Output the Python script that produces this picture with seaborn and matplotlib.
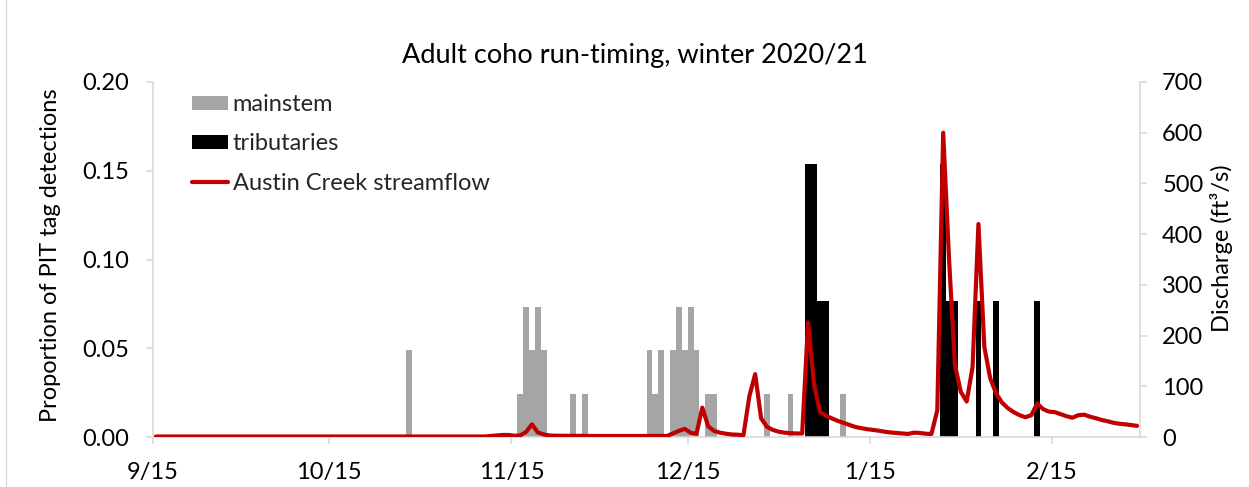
import matplotlib
matplotlib.use("Agg")
import matplotlib.pyplot as plt
from matplotlib.lines import Line2D
import numpy as np
import pandas as pd
import seaborn as sns

# ---------------------------------------------------------------- data
season_start = "2020-09-15"
axis_end = "2021-03-02"

tick_dates = ["2020-09-15", "2020-10-15", "2020-11-15",
              "2020-12-15", "2021-01-15", "2021-02-15"]
tick_labels = ["9/15", "10/15", "11/15", "12/15", "1/15", "2/15"]

# daily proportion of PIT-tag detections (mainstem n = 41, tributaries n = 13)
mainstem_dates = ["2020-10-28", "2020-11-16", "2020-11-17", "2020-11-18",
                  "2020-11-19", "2020-11-20", "2020-11-25", "2020-11-27",
                  "2020-12-08", "2020-12-09", "2020-12-10", "2020-12-12",
                  "2020-12-13", "2020-12-14", "2020-12-15", "2020-12-16",
                  "2020-12-18", "2020-12-19", "2020-12-28", "2021-01-01",
                  "2021-01-10"]
mainstem_prop = [0.0488, 0.0244, 0.0732, 0.0488, 0.0732, 0.0488, 0.0244,
                 0.0244, 0.0488, 0.0244, 0.0488, 0.0488, 0.0732, 0.0488,
                 0.0732, 0.0488, 0.0244, 0.0244, 0.0244, 0.0244, 0.0244]

tributary_dates = ["2021-01-04", "2021-01-05", "2021-01-06", "2021-01-07",
                   "2021-01-27", "2021-01-28", "2021-01-29", "2021-02-02",
                   "2021-02-05", "2021-02-12"]
tributary_prop = [0.1538, 0.1538, 0.0769, 0.0769, 0.1538, 0.0769, 0.0769,
                  0.0769, 0.0769, 0.0769]

# Austin Creek mean daily discharge (cfs): low-flow stretch, then daily record
flow_early_dates = ["2020-09-15", "2020-10-15", "2020-11-10", "2020-11-11",
                    "2020-11-12", "2020-11-13", "2020-11-14", "2020-11-15",
                    "2020-11-16", "2020-11-17", "2020-11-18", "2020-11-19",
                    "2020-11-20", "2020-11-21", "2020-11-22", "2020-11-29",
                    "2020-12-10"]
flow_early_cfs = [1, 1, 1, 2, 3, 4, 4, 2.5, 3, 10, 25, 9, 5, 3, 2.5, 2, 2]

flow_daily_start = "2020-12-11"
flow_daily_cfs = [2, 7, 12, 16, 8.5, 6, 58, 21, 12, 8.5,
                  6.5, 5, 4.5, 3.5, 80, 124, 37, 20, 14, 10.5,
                  8.5, 7.5, 7, 7, 226, 106, 50, 42, 37, 32,
                  28, 24, 20, 17.5, 15.5, 14, 12.5, 10.5, 9, 8,
                  7, 6, 8.5, 8, 6.5, 6, 53, 600, 350, 142,
                  89, 70, 138, 420, 178, 116, 86, 68, 57, 49,
                  43, 39, 43, 66, 55, 50, 49, 45, 41, 38,
                  43, 44, 40, 37, 33.5, 31, 28, 26, 25, 23.5,
                  22]

title = "Adult coho run-timing, winter 2020/21"
left_label = "Proportion of PIT tag detections"
right_label = "Discharge (ft³/s)"

# ---------------------------------------------------------------- style
sns.set_style("white")
plt.rcParams["font.family"] = ["Lato", "DejaVu Sans"]

GRAY = "#A5A5A5"
BLACK = "#000000"
RED = "#C00000"
AXIS = "#D9D9D9"
FS = 17

start = pd.Timestamp(season_start)


def day_center(dates):
    """Days since season start, centred in each day's slot."""
    return np.array([(pd.Timestamp(d) - start).days for d in dates]) + 0.5


flow_dates = list(pd.to_datetime(flow_early_dates)) + list(
    pd.date_range(flow_daily_start, periods=len(flow_daily_cfs)))
flow_cfs = flow_early_cfs + flow_daily_cfs

fig = plt.figure(figsize=(12.49, 4.87), dpi=100)
fig.subplots_adjust(left=153 / 1249, right=1140 / 1249,
                    bottom=1 - 437 / 487, top=1 - 82 / 487)
ax = fig.add_subplot(111)

sns.barplot(x=day_center(mainstem_dates), y=mainstem_prop, native_scale=True,
            orient="x", width=1, color=GRAY, saturation=1, errorbar=None,
            linewidth=0, label="mainstem", ax=ax)
sns.barplot(x=day_center(tributary_dates), y=tributary_prop, native_scale=True,
            orient="x", width=1, color=BLACK, saturation=1, errorbar=None,
            linewidth=0, label="tributaries", ax=ax)
if ax.get_legend() is not None:
    ax.get_legend().remove()

ax2 = ax.twinx()
sns.lineplot(x=day_center(flow_dates), y=flow_cfs, color=RED, linewidth=3.0,
             sort=False, label="Austin Creek streamflow", ax=ax2)

# x axis: days since 9/15
end_day = (pd.Timestamp(axis_end) - start).days
ax.set_xlim(0, end_day)
ax.set_xticks([(pd.Timestamp(d) - start).days for d in tick_dates])
ax.set_xticklabels(tick_labels)

ax.set_ylim(0, 0.20)
ax.set_yticks(np.arange(0, 0.201, 0.05))
ax.set_yticklabels([f"{v:.2f}" for v in np.arange(0, 0.201, 0.05)])
ax2.set_ylim(0, 700)
ax2.set_yticks(np.arange(0, 701, 100))

for a in (ax, ax2):
    for s in a.spines.values():
        s.set_visible(False)
    a.set_facecolor("none")
ax.spines["bottom"].set_visible(True)
ax.spines["left"].set_visible(True)
ax2.spines["right"].set_visible(True)
for s in (ax.spines["bottom"], ax.spines["left"], ax2.spines["right"]):
    s.set_color(AXIS)
    s.set_linewidth(1.2)

ax.tick_params(axis="x", length=5, width=1.2, color=AXIS, labelsize=FS,
               labelcolor="black", pad=13, bottom=True)
ax.tick_params(axis="y", length=5, width=1.2, color=AXIS, labelsize=FS,
               labelcolor="black", pad=12, left=True)
ax2.tick_params(axis="y", length=5, width=1.2, color=AXIS, labelsize=FS,
                labelcolor="black", pad=11, right=True)

ax.set_xlabel("")
ax.set_ylabel(left_label, fontsize=FS, color="black")
ax.yaxis.set_label_coords(-0.104, 0.511)
ax.yaxis.label.set_verticalalignment("center")
ax2.set_ylabel(right_label, fontsize=FS, color="black")
ax2.yaxis.set_label_coords(1.083, 0.532)
ax2.yaxis.label.set_verticalalignment("center")

ax.set_title(title, fontsize=19.5, color="black", x=0.488, pad=14)

h1, l1 = ax.get_legend_handles_labels()
h2, l2 = ax2.get_legend_handles_labels()
ax2.legend(h1 + h2, l1 + l2, loc="upper left", bbox_to_anchor=(0.040, 0.966),
           frameon=False, fontsize=FS, handlelength=1.5, handleheight=0.55,
           handletextpad=0.2, labelspacing=0.78, borderpad=0,
           borderaxespad=0)

# chart-area border along the left edge
fig.add_artist(Line2D([5.5 / 1249, 5.5 / 1249], [0, 1],
                      transform=fig.transFigure, color=AXIS, linewidth=1))

fig.savefig("out.png", dpi=100, facecolor="white")
